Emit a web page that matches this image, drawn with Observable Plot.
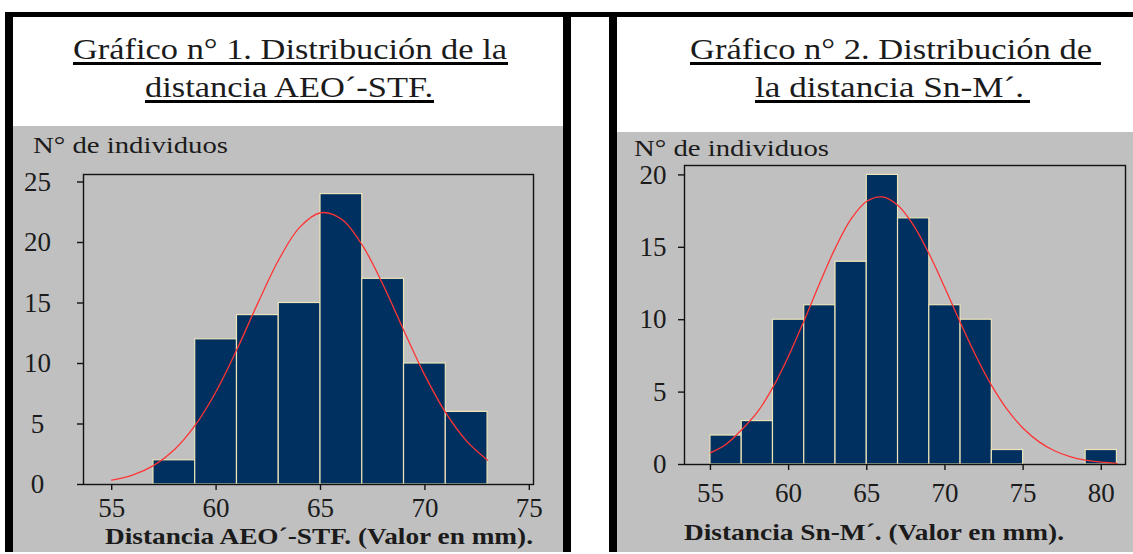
<!DOCTYPE html>
<html>
<head>
<meta charset="utf-8">
<script src="https://cdn.jsdelivr.net/npm/d3@7"></script>
<script src="https://cdn.jsdelivr.net/npm/@observablehq/plot@0.6"></script>
<style>
  html, body { margin: 0; padding: 0; background: #ffffff; }
  #root { position: relative; width: 1133px; height: 554px; overflow: hidden; background: #ffffff; }
  .blk { position: absolute; }
  .chart { position: absolute; }
  .chart svg { display: block; overflow: visible; }
  #overlay { position: absolute; left: 0; top: 0; pointer-events: none; }
</style>
</head>
<body>
<div id="root"></div>
<script>
// ---------------- DATA ----------------
// Gráfico 1: distancia AEO´-STF (bins of 2 mm)
const leftEdges  = [57, 59, 61, 63, 65, 67, 69, 71, 73];
const leftCounts = [2, 12, 14, 15, 24, 17, 10, 6];
const leftCurveX = [55, 56, 57, 58, 59, 60, 61, 62, 63, 64, 65, 66, 67, 68, 69, 70, 71, 72, 73];
const leftCurveY = [0.36, 0.78, 1.56, 2.87, 4.9, 7.69, 11.17, 14.99, 18.57, 21.25, 22.46, 21.94, 19.78, 16.49, 12.69, 9.02, 5.92, 3.59, 2.01];
const leftXTicks = [55, 60, 65, 70, 75];
const leftYTicks = [0, 5, 10, 15, 20, 25];

// Gráfico 2: distancia Sn-M´ (bins of 2 mm)
const rightEdges  = [55, 57, 59, 61, 63, 65, 67, 69, 71, 73, 75, 77, 79, 81];
const rightCounts = [2, 3, 10, 11, 14, 20, 17, 11, 10, 1, 0, 0, 1];
const rightCurveX = [55, 56, 57, 58, 59, 60, 61, 62, 63, 64, 65, 66, 67, 68, 69, 70, 71, 72, 73, 74, 75, 76, 77, 78, 79, 80, 81];
const rightCurveY = [0.8, 1.4, 2.4, 3.61, 5.34, 7.49, 9.96, 12.55, 14.98, 16.96, 18.18, 18.48, 17.88, 16.5, 14.52, 12.19, 9.76, 7.46, 5.43, 3.77, 2.5, 1.58, 0.95, 0.55, 0.3, 0.16, 0.08];
const rightXTicks = [55, 60, 65, 70, 75, 80];
const rightYTicks = [0, 5, 10, 15, 20];

// Texts
const leftTitle  = ["Gráfico n° 1. Distribución de la", "distancia AEO´-STF."];
const rightTitle = ["Gráfico n° 2. Distribución de", "la distancia Sn-M´."];
const yLabel = "N° de individuos";
const leftXLabel  = "Distancia AEO´-STF. (Valor en mm).";
const rightXLabel = "Distancia Sn-M´. (Valor en mm).";

// ---------------- STYLE ----------------
const NAVY = "#00305f";
const CREAM = "#ece4b8";
const RED = "#ff3434";
const GRAY = "#c0c0c0";
const INK = "#1b1b1b";
const SERIF = "'Liberation Serif', 'DejaVu Serif', serif";

const root = document.getElementById("root");

function block(l, t, w, h, color) {
  const d = document.createElement("div");
  d.className = "blk";
  Object.assign(d.style, {left: l + "px", top: t + "px", width: w + "px", height: h + "px", background: color});
  root.appendChild(d);
}

// panel backgrounds and borders
block(13, 126, 550, 426, GRAY);
block(617, 132, 516, 420, GRAY);
block(5, 12, 1128, 5, "#000");
block(5, 12, 8, 540, "#000");
block(563, 12, 8, 540, "#000");
block(609, 12, 8, 540, "#000");

function bars(edges, counts) {
  return counts.map((c, i) => ({x1: edges[i], x2: edges[i + 1], count: c}));
}
function curve(xs, ys) {
  return xs.map((x, i) => ({x, y: ys[i]}));
}

function histogram(opts) {
  return Plot.plot({
    width: opts.width, height: opts.height,
    marginLeft: opts.ml, marginRight: opts.mr, marginTop: opts.mt, marginBottom: opts.mb,
    x: {domain: opts.xDomain},
    y: {domain: opts.yDomain},
    style: {background: "transparent", fontFamily: SERIF, fontSize: "27px", color: INK, overflow: "visible"},
    marks: [
      Plot.rectY(opts.bars, {x1: "x1", x2: "x2", y: "count", fill: NAVY, stroke: CREAM, strokeWidth: 1.2}),
      Plot.line(opts.curve, {x: "x", y: "y", stroke: RED, strokeWidth: 1.3, curve: "catmull-rom"}),
      Plot.frame({stroke: "#111", strokeWidth: 1.4}),
      Plot.axisX({ticks: opts.xTicks, tickSize: 6, tickPadding: opts.xPad, label: null, fontSize: 27, stroke: "#111", strokeWidth: 1.4, tickFormat: d3.format("d")}),
      Plot.axisY({ticks: opts.yTicks, tickSize: 6, tickPadding: opts.yPad, textAnchor: opts.yAnchor, label: null, fontSize: 27, stroke: "#111", strokeWidth: 1.4, tickFormat: d3.format("d")})
    ]
  });
}

function place(svg, l, t) {
  const wrap = document.createElement("div");
  wrap.className = "chart";
  wrap.style.left = l + "px";
  wrap.style.top = t + "px";
  wrap.appendChild(svg);
  root.appendChild(wrap);
}

place(histogram({
  width: 549, height: 425, ml: 69, mr: 30, mt: 47, mb: 68,
  xDomain: [53.65, 75.2], yDomain: [0, 25.62],
  bars: bars(leftEdges, leftCounts), curve: curve(leftCurveX, leftCurveY),
  xTicks: leftXTicks, yTicks: leftYTicks, xPad: 7, yPad: 40, yAnchor: "middle"
}), 14, 127);

place(histogram({
  width: 516, height: 420, ml: 67, mr: 8, mt: 33, mb: 88,
  xDomain: [53.34, 81.55], yDomain: [0, 20.65],
  bars: bars(rightEdges, rightCounts), curve: curve(rightCurveX, rightCurveY),
  xTicks: rightXTicks, yTicks: rightYTicks, xPad: 12, yPad: 12, yAnchor: "end"
}), 617, 132);

// ---------------- TEXT OVERLAY ----------------
const ov = d3.select(root).append("svg")
  .attr("id", "overlay").attr("width", 1133).attr("height", 554);

function label(str, x, y, len, size, weight, underline) {
  ov.append("text")
    .attr("x", x).attr("y", y)
    .attr("font-family", SERIF).attr("font-size", size).attr("font-weight", weight || "normal")
    .attr("fill", INK)
    .attr("textLength", len).attr("lengthAdjust", "spacingAndGlyphs")
    .text(str);
  if (underline) {
    ov.append("rect").attr("x", x).attr("y", y + 3).attr("width", underline).attr("height", 3).attr("fill", "#000");
  }
}

label(leftTitle[0], 73, 59, 434, 30, "normal", 435);
label(leftTitle[1], 145, 97, 288, 30, "normal", 289);
label(rightTitle[0], 690, 59, 402, 30, "normal", 411);
label(rightTitle[1], 755, 97, 269, 30, "normal", 275);

label(yLabel, 33, 153, 195, 24, "normal");
label(yLabel, 634, 156, 195, 24, "normal");

label(leftXLabel, 105, 544, 428, 24, "bold");
label(rightXLabel, 684, 540, 380, 24, "bold");
</script>
</body>
</html>
